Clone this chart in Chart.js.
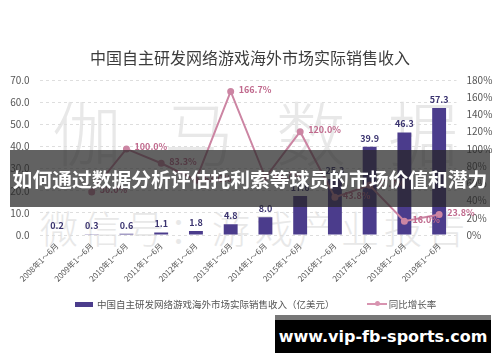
<!DOCTYPE html>
<html>
<head>
<meta charset="utf-8">
<script src="https://cdn.jsdelivr.net/npm/chart.js@4/dist/chart.umd.min.js"></script>
<style>
html, body { margin: 0; padding: 0; background: #fff; }
#wrap { position: relative; width: 500px; height: 362px; overflow: hidden; font-family: 'Noto Sans CJK SC', sans-serif; }
#chart { position: absolute; left: 0; top: 0; z-index: 1; }
.wm { position: absolute; color: #e8e8e8; z-index: 0; white-space: nowrap; line-height: 1; font-weight: 300; }
#legend { position: absolute; left: 75px; top: 296px; z-index: 2; font-size: 9.5px; color: #555; white-space: nowrap; }
#legend span { display: inline-block; vertical-align: middle; }
#banner { position: absolute; left: 10px; top: 150px; width: 480px; height: 57px; background: rgba(38,38,38,0.72); z-index: 3;
  color: #fff; font-weight: bold; font-size: 19.8px; line-height: 57px; text-align: center; white-space: nowrap; }
#site { position: absolute; left: 275px; top: 315px; width: 216px; height: 38px; background: #000; border-top: 5px solid #777;
  box-sizing: border-box; z-index: 3; color: #fff; font-family: 'DejaVu Sans', sans-serif; font-weight: bold; font-size: 16px;
  line-height: 33px; text-align: center; }
</style>
</head>
<body>
<div id="wrap">
  <div class="wm" style="left:52px; top:96px; font-size:70px; letter-spacing:42px;">伽马数据</div>
  <div class="wm" style="left:40px; top:208px; font-size:38px; letter-spacing:5px;">微信号：游戏产业报告</div>
  <canvas id="chart" width="500" height="362"></canvas>
  <div id="legend">
    <span style="width:18px;height:5px;background:#4b3c8c;margin-right:4px;"></span><span>中国自主研发网络游戏海外市场实际销售收入（亿美元）</span>
    <span style="width:20px;height:2px;background:#d894b0;margin-left:30px;margin-right:2px;position:relative;">
      <span style="position:absolute;left:8px;top:-2px;width:5px;height:5px;border-radius:50%;background:#d894b0;"></span>
    </span><span>同比增长率</span>
  </div>
  <div id="banner">如何通过数据分析评估托利索等球员的市场价值和潜力</div>
  <div id="site">www.vip-fb-sports.com</div>
</div>
<script>
// 数据
const periods = ['2008年1～6月', '2009年1～6月', '2010年1～6月', '2011年1～6月', '2012年1～6月', '2013年1～6月',
  '2014年1～6月', '2015年1～6月', '2016年1～6月', '2017年1～6月', '2018年1～6月', '2019年1～6月'];
const revenue = [0.2, 0.3, 0.6, 1.1, 1.8, 4.8, 8.0, 17.6, 25.3, 39.9, 46.3, 57.3];
const growth = [null, 50.0, 100.0, 83.3, 63.6, 166.7, 66.7, 120.0, 43.8, 57.7, 16.0, 23.8];

const colors = {
  bar: '#4b3c8c',
  barLabel: '#3b3470',
  line: '#cc85a3',
  lineLabel: '#c0698d',
  tick: '#555',
  grid: '#dedede'
};
const font = "'Noto Sans CJK SC', sans-serif";

// 数值标签
const valueLabels = {
  id: 'valueLabels',
  afterDatasetsDraw(chart) {
    const ctx = chart.ctx;
    ctx.save();
    const barMeta = chart.getDatasetMeta(0);
    ctx.font = "bold 9px " + font;
    ctx.fillStyle = colors.barLabel;
    ctx.textAlign = 'center';
    ctx.textBaseline = 'bottom';
    barMeta.data.forEach((el, i) => {
      ctx.fillText(revenue[i].toFixed(1), el.x, el.y - 4);
    });
    const lineMeta = chart.getDatasetMeta(1);
    ctx.fillStyle = colors.lineLabel;
    ctx.textAlign = 'left';
    ctx.textBaseline = 'middle';
    lineMeta.data.forEach((el, i) => {
      if (growth[i] == null) return;
      ctx.fillText(growth[i].toFixed(1) + '%', el.x + 8, el.y - 2);
    });
    ctx.restore();
  }
};

new Chart(document.getElementById('chart'), {
  data: {
    labels: periods,
    datasets: [
      {
        type: 'bar',
        label: '中国自主研发网络游戏海外市场实际销售收入（亿美元）',
        data: revenue,
        yAxisID: 'y',
        backgroundColor: colors.bar,
        categoryPercentage: 1,
        barPercentage: 0.4,
        order: 1
      },
      {
        type: 'line',
        label: '同比增长率',
        data: growth,
        yAxisID: 'y2',
        borderColor: colors.line,
        backgroundColor: colors.line,
        borderWidth: 2,
        pointRadius: 2.5,
        tension: 0,
        order: 0
      }
    ]
  },
  options: {
    responsive: false,
    animation: false,
    layout: { padding: { top: 0, left: 0, right: 0, bottom: 77 } },
    plugins: {
      legend: { display: false },
      tooltip: { enabled: false },
      title: {
        display: true,
        text: '中国自主研发网络游戏海外市场实际销售收入',
        color: '#3c3c3c',
        font: { family: font, size: 16, weight: 'normal' },
        padding: { top: 48, bottom: 12.8 }
      }
    },
    scales: {
      x: {
        offset: true,
        grid: { display: false, drawTicks: false },
        border: { display: false },
        ticks: { color: colors.tick, font: { family: font, size: 8 }, minRotation: 45, maxRotation: 45, padding: 6, autoSkip: false },
        afterFit(scale) { scale.height = 50; }
      },
      y: {
        position: 'left',
        min: 0, max: 70,
        grid: { color: colors.grid, drawTicks: false },
        border: { display: false, dash: [3, 3] },
        ticks: { stepSize: 10, color: colors.tick, font: { family: font, size: 10 }, padding: 10,
          callback: v => v.toFixed(1) },
        afterFit(scale) { scale.width = 39.6; }
      },
      y2: {
        position: 'right',
        min: 0, max: 180,
        grid: { display: false, drawTicks: false },
        border: { display: false },
        ticks: { stepSize: 20, color: colors.tick, font: { family: font, size: 10 }, padding: 10,
          callback: v => v + '%' },
        afterFit(scale) { scale.width = 43.5; }
      }
    }
  },
  plugins: [valueLabels]
});
</script>
</body>
</html>
